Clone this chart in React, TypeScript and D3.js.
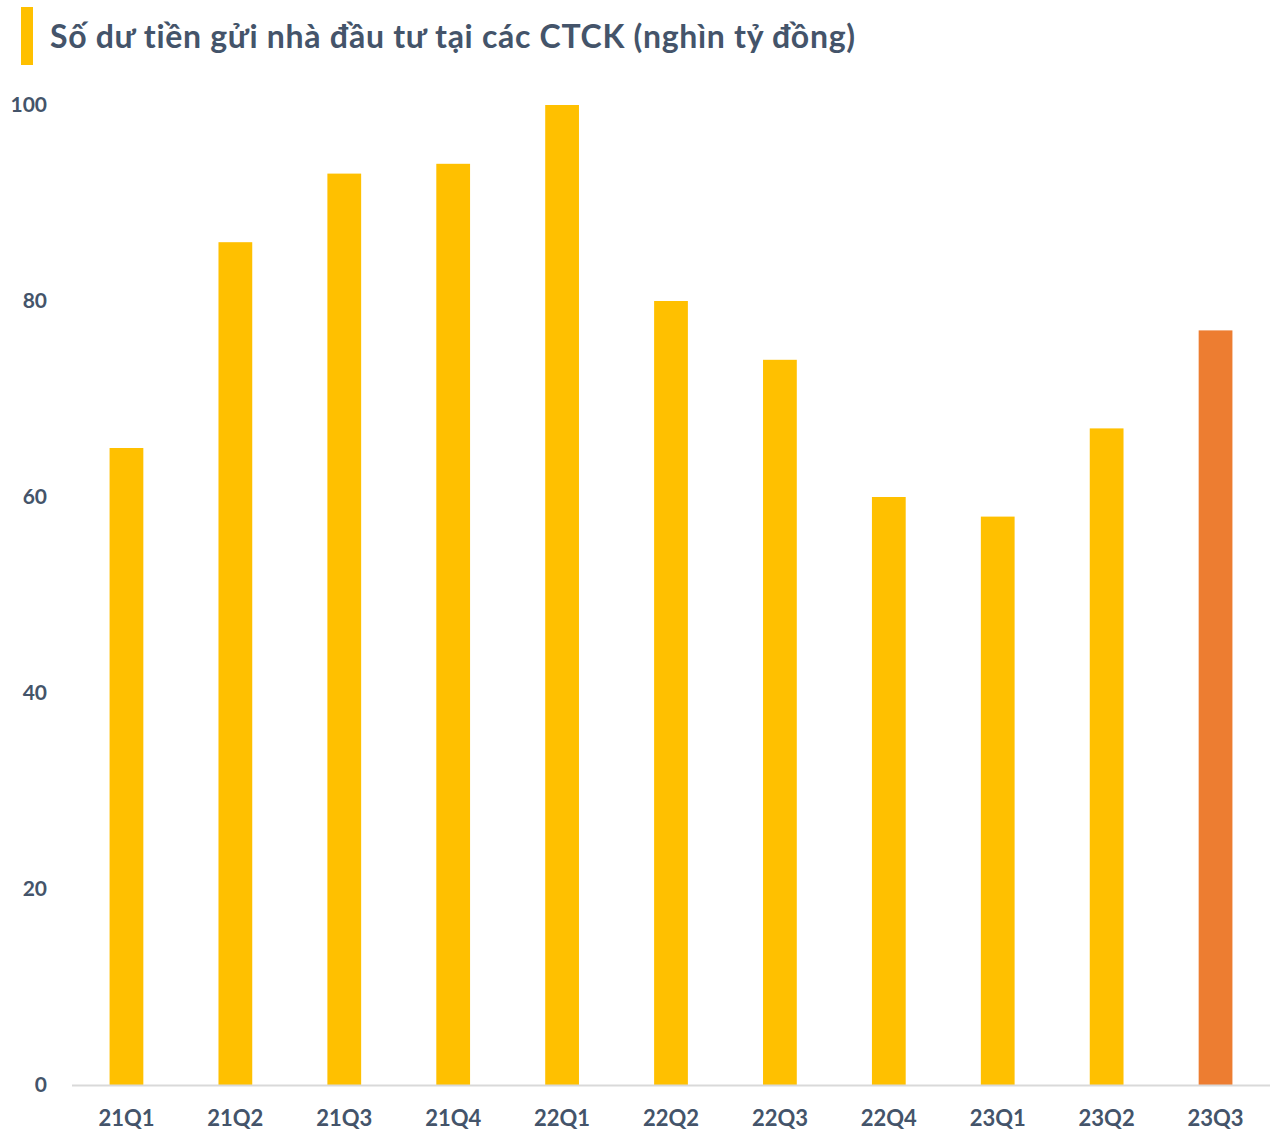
import { useEffect, useRef } from "react";
import * as d3 from "d3";

const quarters = ["21Q1", "21Q2", "21Q3", "21Q4", "22Q1", "22Q2", "22Q3", "22Q4", "23Q1", "23Q2", "23Q3"];
const balances = [65, 86, 93, 94, 100, 80, 74, 60, 58, 67, 77];
const yTicks = [0, 20, 40, 60, 80, 100];
const highlighted = ["23Q3"];

const title = "Số dư tiền gửi nhà đầu tư tại các CTCK (nghìn tỷ đồng)";

const dims = {
  width: 1288,
  height: 1142,
  left: 72,
  right: 1270,
  top: 105,
  bottom: 1085,
};

const textColor = "#44546A";
const font = "Lato, 'Open Sans', sans-serif";

export default function App() {
  const ref = useRef<SVGSVGElement>(null);

  useEffect(() => {
    const svg = d3.select(ref.current);
    svg.selectAll("*").remove();

    const x = d3
      .scaleBand()
      .domain(quarters)
      .range([dims.left, dims.right])
      .paddingInner(0.69)
      .paddingOuter(0.345);
    const y = d3.scaleLinear().domain([0, 100]).range([dims.bottom, dims.top]);

    // title marker + text
    svg
      .append("rect")
      .attr("x", 21)
      .attr("y", 7)
      .attr("width", 12)
      .attr("height", 58)
      .attr("fill", "#FFC000");
    svg
      .append("text")
      .attr("x", 50)
      .attr("y", 48)
      .attr("fill", textColor)
      .attr("font-family", font)
      .attr("font-weight", 700)
      .attr("font-size", 32)
      .attr("letter-spacing", 0.7)
      .text(title);

    // y labels
    svg
      .append("g")
      .selectAll("text")
      .data(yTicks)
      .join("text")
      .attr("x", 47)
      .attr("y", (d) => y(d))
      .attr("dy", "0.35em")
      .attr("text-anchor", "end")
      .attr("fill", textColor)
      .attr("font-family", font)
      .attr("font-weight", 700)
      .attr("font-size", 21)
      .text((d) => d);

    // bars
    svg
      .append("g")
      .selectAll("rect")
      .data(quarters)
      .join("rect")
      .attr("x", (d) => x(d)!)
      .attr("width", x.bandwidth())
      .attr("y", (_, i) => y(balances[i]))
      .attr("height", (_, i) => y(0) - y(balances[i]))
      .attr("fill", (d) => (highlighted.includes(d) ? "#ED7D31" : "#FFC000"));

    // baseline
    svg
      .append("line")
      .attr("x1", dims.left)
      .attr("x2", dims.right)
      .attr("y1", y(0) + 0.5)
      .attr("y2", y(0) + 0.5)
      .attr("stroke", "#D9D9D9")
      .attr("stroke-width", 2);

    // x labels
    svg
      .append("g")
      .selectAll("text")
      .data(quarters)
      .join("text")
      .attr("x", (d) => x(d)! + x.bandwidth() / 2)
      .attr("y", 1126)
      .attr("text-anchor", "middle")
      .attr("fill", textColor)
      .attr("font-family", font)
      .attr("font-weight", 700)
      .attr("font-size", 22)
      .text((d) => d);
  }, []);

  return (
    <svg
      ref={ref}
      width={dims.width}
      height={dims.height}
      style={{ position: "absolute", left: 0, top: 0, background: "#fff" }}
    ></svg>
  );
}
